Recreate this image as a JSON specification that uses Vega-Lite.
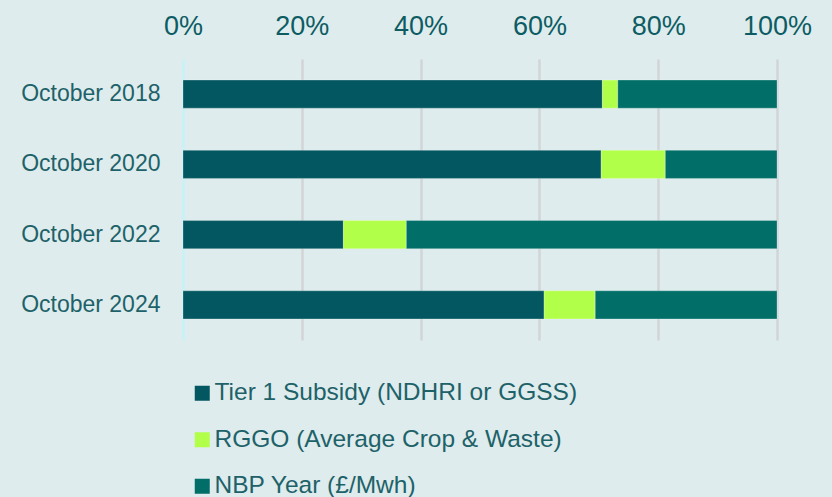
{
  "$schema": "https://vega.github.io/schema/vega-lite/v6.json",
  "width": 594,
  "height": 281,
  "autosize": {"type": "none"},
  "padding": {"left": 183, "top": 59, "right": 55, "bottom": 157},
  "background": "#deeced",
  "config": {
    "view": {"stroke": null},
    "font": "Liberation Sans"
  },
  "data": {
    "values": [
      {"period": "October 2018", "series": "Tier 1 Subsidy (NDHRI or GGSS)", "share": 70.6},
      {"period": "October 2018", "series": "RGGO (Average Crop & Waste)", "share": 2.6},
      {"period": "October 2018", "series": "NBP Year (£/Mwh)", "share": 26.8},
      {"period": "October 2020", "series": "Tier 1 Subsidy (NDHRI or GGSS)", "share": 70.4},
      {"period": "October 2020", "series": "RGGO (Average Crop & Waste)", "share": 10.8},
      {"period": "October 2020", "series": "NBP Year (£/Mwh)", "share": 18.8},
      {"period": "October 2022", "series": "Tier 1 Subsidy (NDHRI or GGSS)", "share": 27.0},
      {"period": "October 2022", "series": "RGGO (Average Crop & Waste)", "share": 10.6},
      {"period": "October 2022", "series": "NBP Year (£/Mwh)", "share": 62.4},
      {"period": "October 2024", "series": "Tier 1 Subsidy (NDHRI or GGSS)", "share": 60.8},
      {"period": "October 2024", "series": "RGGO (Average Crop & Waste)", "share": 8.6},
      {"period": "October 2024", "series": "NBP Year (£/Mwh)", "share": 30.6}
    ]
  },
  "mark": {"type": "bar", "stroke": "#ffffff", "strokeOpacity": 0.25, "strokeWidth": 1},
  "encoding": {
    "y": {
      "field": "period",
      "type": "nominal",
      "sort": ["October 2018", "October 2020", "October 2022", "October 2024"],
      "scale": {"paddingInner": 0.6, "paddingOuter": 0.3},
      "axis": {
        "title": null,
        "domain": false,
        "ticks": false,
        "labelFontSize": 23,
        "labelColor": "#1e6269",
        "labelPadding": 23
      }
    },
    "x": {
      "field": "share",
      "type": "quantitative",
      "stack": "normalize",
      "axis": {
        "orient": "top",
        "title": null,
        "format": ".0%",
        "values": [0, 0.2, 0.4, 0.6, 0.8, 1],
        "domain": false,
        "ticks": false,
        "grid": true,
        "gridColor": {"condition": {"test": "datum.value === 0", "value": "#c6f3f6"}, "value": "#d2d5d7"},
        "gridWidth": 2.5,
        "labelFlush": false,
        "labelOverlap": false,
        "labelFontSize": 27,
        "labelColor": "#0d5c63",
        "labelPadding": 19
      }
    },
    "color": {
      "field": "series",
      "type": "nominal",
      "sort": ["Tier 1 Subsidy (NDHRI or GGSS)", "RGGO (Average Crop & Waste)", "NBP Year (£/Mwh)"],
      "scale": {
        "domain": ["Tier 1 Subsidy (NDHRI or GGSS)", "RGGO (Average Crop & Waste)", "NBP Year (£/Mwh)"],
        "range": ["#035760", "#b2ff4a", "#016e68"]
      },
      "legend": {
        "title": null,
        "orient": "none",
        "legendX": 7,
        "legendY": 322,
        "direction": "vertical",
        "symbolType": "square",
        "symbolSize": 225,
        "symbolStrokeWidth": 0,
        "labelFontSize": 24.5,
        "labelColor": "#1e6269",
        "labelOffset": 0,
        "rowPadding": 21.5,
        "labelLimit": 600
      }
    },
    "order": {"field": "sortIndex"}
  },
  "transform": [
    {"calculate": "indexof(['Tier 1 Subsidy (NDHRI or GGSS)', 'RGGO (Average Crop & Waste)', 'NBP Year (£/Mwh)'], datum.series)", "as": "sortIndex"}
  ]
}
